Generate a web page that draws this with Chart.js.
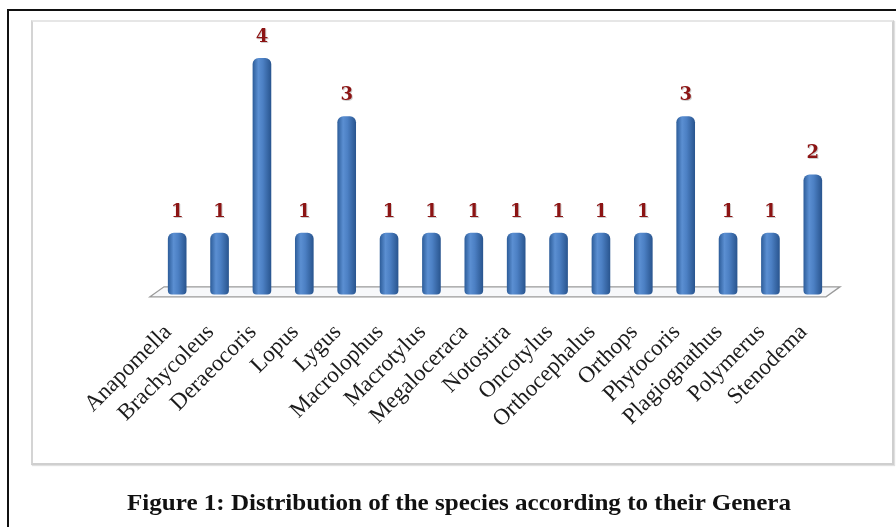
<!DOCTYPE html>
<html>
<head>
<meta charset="utf-8">
<script src="https://cdn.jsdelivr.net/npm/chart.js@4/dist/chart.umd.min.js"></script>
<style>
  html, body { margin: 0; padding: 0; background: #fff; }
  #wrap { position: relative; width: 896px; height: 527px; overflow: hidden; background: #fff; }
  #outerTop { position: absolute; left: 7px; top: 9px; width: 889px; height: 2px; background: #111; }
  #outerLeft { position: absolute; left: 7px; top: 9px; width: 2px; height: 518px; background: #111; }
  #panel { position: absolute; left: 31px; top: 20px; width: 859px; height: 441px;
           border: 2px solid #cfcfcf; border-top-color: #e6e6e6; border-left-color: #d4d4d4;
           box-shadow: 1px 1px 1px rgba(0,0,0,0.12); }
  #chartBox { position: absolute; left: 0; top: 0; width: 896px; height: 527px; }
  #caption { position: absolute; left: 0; top: 489px; width: 896px; height: 32px; }
  #caption span { position: absolute; left: 459px; top: 0; white-space: nowrap;
                  font-family: "Liberation Serif", "Times New Roman", serif; font-weight: bold;
                  font-size: 24px; color: #111; transform-origin: 0 0; }
</style>
</head>
<body>
<div id="wrap">
  <div id="outerTop"></div>
  <div id="outerLeft"></div>
  <div id="panel"></div>
  <div id="chartBox"><canvas id="c" width="896" height="527"></canvas></div>
  <div id="caption"><span id="capText">Figure 1: Distribution of the species according to their Genera</span></div>
</div>
<script>
// Genera and the number of species recorded in each
const genera = [
  "Anapomella", "Brachycoleus", "Deraeocoris", "Lopus", "Lygus", "Macrolophus",
  "Macrotylus", "Megaloceraca", "Notostira", "Oncotylus", "Orthocephalus", "Orthops",
  "Phytocoris", "Plagiognathus", "Polymerus", "Stenodema"
];
const speciesCount = [1, 1, 4, 1, 3, 1, 1, 1, 1, 1, 1, 1, 3, 1, 1, 2];

// Fit the caption to its printed width
(function () {
  const span = document.getElementById('capText');
  const w = span.getBoundingClientRect().width;
  const target = 664;
  const s = target / w;
  span.style.transform = 'translateX(' + (-target / 2) + 'px) scaleX(' + s + ')';
})();

// Cylinder shading across each bar
function cylinderFill(context) {
  const chart = context.chart;
  const xScale = chart.scales.x;
  if (!xScale || !chart.chartArea) return '#4a7ebf';
  const cx = xScale.getPixelForValue(context.dataIndex);
  const half = 9;
  const g = chart.ctx.createLinearGradient(cx - half, 0, cx + half, 0);
  g.addColorStop(0, '#2f5f9c');
  g.addColorStop(0.3, '#5b8fd2');
  g.addColorStop(0.55, '#4c80c4');
  g.addColorStop(1, '#2a5690');
  return g;
}

// Floor plane under the bars
const floorPlugin = {
  id: 'floor',
  beforeDatasetsDraw(chart) {
    const { ctx, chartArea } = chart;
    const y0 = chart.scales.y.getPixelForValue(0);
    const back = y0 - 4.5, front = y0 + 5.5;
    const L = chartArea.left, R = chartArea.right;
    ctx.save();
    ctx.beginPath();
    ctx.moveTo(L - 6, front);
    ctx.lineTo(L + 8, back);
    ctx.lineTo(R + 6, back);
    ctx.lineTo(R - 8, front);
    ctx.closePath();
    ctx.fillStyle = '#f7f8fa';
    ctx.fill();
    ctx.lineWidth = 1.3;
    ctx.strokeStyle = '#9a9a9a';
    ctx.stroke();
    ctx.restore();
  }
};

// Value labels above the bars
const valueLabels = {
  id: 'valueLabels',
  afterDatasetsDraw(chart) {
    const { ctx } = chart;
    const meta = chart.getDatasetMeta(0);
    ctx.save();
    ctx.font = 'bold 18px "DejaVu Serif", serif';
    ctx.textAlign = 'center';
    ctx.textBaseline = 'middle';
    meta.data.forEach((bar, i) => {
      const v = chart.data.datasets[0].data[i];
      ctx.fillStyle = 'rgba(120,120,120,0.35)';
      ctx.fillText(String(v), bar.x + 1, bar.y - 20);
      ctx.fillStyle = '#8c1414';
      ctx.fillText(String(v), bar.x, bar.y - 21);
    });
    ctx.restore();
  }
};

new Chart(document.getElementById('c'), {
  type: 'bar',
  data: {
    labels: genera,
    datasets: [{
      data: speciesCount,
      backgroundColor: cylinderFill,
      borderWidth: 0,
      borderRadius: { topLeft: 6, topRight: 6, bottomLeft: 4, bottomRight: 4 },
      borderSkipped: false,
      barThickness: 18,
      base: -0.05
    }]
  },
  options: {
    responsive: false,
    animation: false,
    events: [],
    layout: { padding: { left: 156, right: 62, top: 35, bottom: 0 } },
    plugins: { legend: { display: false }, tooltip: { enabled: false }, title: { display: false } },
    scales: {
      y: {
        display: false,
        min: -0.08,
        max: 4.4
      },
      x: {
        grid: { display: false },
        border: { display: false },
        ticks: {
          minRotation: 45,
          maxRotation: 45,
          autoSkip: false,
          padding: 15,
          labelOffset: -9,
          color: '#1c1c1c',
          font: { family: '"Liberation Serif", "Times New Roman", serif', size: 23 }
        },
        afterFit(scale) { scale.height = 231; }
      }
    }
  },
  plugins: [floorPlugin, valueLabels]
});
</script>
</body>
</html>
